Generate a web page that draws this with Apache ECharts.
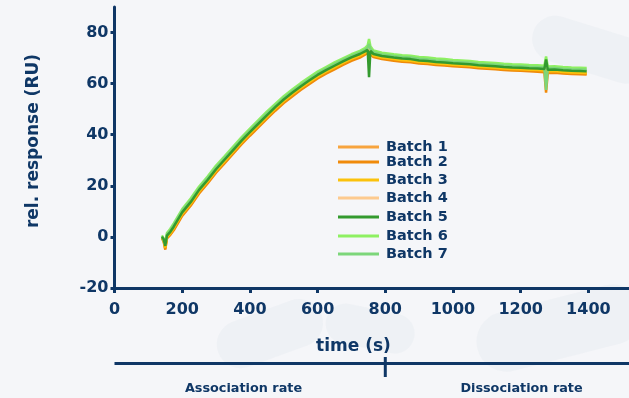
<!DOCTYPE html>
<html>
  <head>
    <meta charset="utf-8" />
    <title>Batch comparison</title>
    <script src="https://cdn.jsdelivr.net/npm/echarts@6/dist/echarts.min.js"></script>
    <style>
      html, body { margin: 0; padding: 0; }
      #main { width: 629px; height: 398px; }
    </style>
  </head>
  <body>
    <div id="main"></div>
    <script type="text/javascript">
      // time axis (s), shared by all batches
      var times = [140, 145, 150, 155, 165, 175,
        200, 225, 250, 275, 300, 325, 350, 375, 400, 425, 450, 475, 500, 525, 550, 575, 600, 625, 650, 675, 700, 725,
        740, 748, 752, 756, 765, 790,
        825, 850, 875, 900, 925, 950, 975, 1000, 1025, 1050, 1075, 1100, 1125, 1150, 1175, 1200, 1225, 1250,
        1270, 1275, 1280, 1300, 1325, 1350, 1375, 1395];

      // rel. response (RU) per batch
      var batch1 = [-0.4, -1.4, -4.6, -0.3, 1.1, 3.0,
        8.6, 12.6, 17.4, 21.3, 25.5, 29.2, 32.9, 36.6, 40.0, 43.3, 46.6, 49.8, 52.8, 55.4, 57.9, 60.2, 62.4, 64.3, 66.0, 67.7, 69.3, 70.6,
        71.6, 72.3, 73.0, 71.9, 70.7, 69.9,
        69.3, 68.9, 68.7, 68.2, 68.0, 67.6, 67.4, 67.1, 66.9, 66.7, 66.3, 66.1, 65.9, 65.6, 65.4, 65.3, 65.1, 65.0,
        64.8, 63.5, 64.5, 64.6, 64.3, 64.1, 64.0, 63.9];
      var batch2 = [-0.6, -1.7, -5.0, -0.6, 0.8, 2.6,
        8.2, 12.2, 17.0, 20.9, 25.1, 28.8, 32.5, 36.2, 39.6, 42.9, 46.2, 49.4, 52.4, 55.0, 57.5, 59.8, 62.0, 63.9, 65.6, 67.3, 68.9, 70.2,
        71.3, 72.0, 72.5, 71.6, 70.4, 69.6,
        69.0, 68.6, 68.4, 67.9, 67.7, 67.3, 67.1, 66.8, 66.6, 66.4, 66.0, 65.8, 65.6, 65.3, 65.1, 65.0, 64.8, 64.7,
        64.5, 56.5, 64.2, 64.3, 64.0, 63.8, 63.7, 63.6];
      var batch3 = [-0.3, -1.2, -4.2, 0.0, 1.4, 3.4,
        9.0, 13.0, 17.8, 21.7, 25.9, 29.6, 33.3, 37.0, 40.4, 43.7, 47.0, 50.2, 53.2, 55.8, 58.3, 60.6, 62.8, 64.7, 66.4, 68.1, 69.7, 71.0,
        72.0, 72.6, 73.5, 72.2, 71.0, 70.2,
        69.6, 69.2, 69.0, 68.5, 68.3, 67.9, 67.7, 67.4, 67.2, 67.0, 66.6, 66.4, 66.2, 65.9, 65.7, 65.6, 65.4, 65.3,
        65.1, 64.5, 64.8, 64.9, 64.6, 64.4, 64.3, 64.2];
      var batch4 = [0.2, -0.6, -3.0, 0.8, 2.3, 4.4,
        10.0, 14.0, 18.7, 22.7, 26.9, 30.6, 34.3, 38.0, 41.4, 44.7, 48.0, 51.1, 54.1, 56.7, 59.2, 61.5, 63.7, 65.6, 67.3, 69.0, 70.6, 71.9,
        72.9, 73.6, 74.2, 73.2, 72.0, 71.1,
        70.5, 70.1, 69.9, 69.4, 69.2, 68.8, 68.6, 68.3, 68.1, 67.9, 67.5, 67.3, 67.1, 66.8, 66.6, 66.5, 66.3, 66.2,
        66.0, 66.4, 65.7, 65.8, 65.5, 65.3, 65.2, 65.1];
      var batch5 = [0.0, -0.8, -3.5, 0.5, 2.0, 4.0,
        9.6, 13.6, 18.4, 22.3, 26.5, 30.2, 33.9, 37.6, 41.0, 44.3, 47.6, 50.8, 53.8, 56.4, 58.9, 61.2, 63.4, 65.3, 67.0, 68.7, 70.3, 71.6,
        72.6, 73.2, 62.5, 72.8, 71.6, 70.8,
        70.2, 69.8, 69.6, 69.1, 68.9, 68.5, 68.3, 68.0, 67.8, 67.6, 67.2, 67.0, 66.8, 66.5, 66.3, 66.2, 66.0, 65.9,
        65.7, 69.5, 65.4, 65.5, 65.2, 65.0, 64.9, 64.8];
      var batch6 = [0.6, 0.2, -2.0, 1.5, 3.2, 5.3,
        10.9, 15.0, 19.7, 23.6, 27.9, 31.5, 35.3, 39.0, 42.4, 45.7, 49.0, 52.1, 55.1, 57.7, 60.2, 62.5, 64.7, 66.5, 68.3, 69.9, 71.5, 72.8,
        73.9, 75.0, 77.5, 74.6, 73.0, 72.1,
        71.5, 71.1, 70.9, 70.4, 70.2, 69.8, 69.6, 69.3, 69.1, 68.9, 68.5, 68.3, 68.1, 67.8, 67.6, 67.5, 67.3, 67.2,
        67.0, 70.6, 66.7, 66.8, 66.5, 66.3, 66.2, 66.1];
      var batch7 = [0.3, -0.4, -2.8, 1.0, 2.6, 4.7,
        10.3, 14.3, 19.0, 23.0, 27.2, 30.9, 34.6, 38.3, 41.7, 45.0, 48.3, 51.4, 54.4, 57.0, 59.5, 61.8, 64.0, 65.9, 67.6, 69.3, 70.9, 72.2,
        73.2, 74.0, 75.5, 73.6, 72.3, 71.4,
        70.8, 70.4, 70.2, 69.7, 69.5, 69.1, 68.9, 68.6, 68.4, 68.2, 67.8, 67.6, 67.4, 67.1, 66.9, 66.8, 66.6, 66.5,
        66.3, 57.5, 66.0, 66.1, 65.8, 65.6, 65.5, 65.4];

      var batchNames = ['Batch 1', 'Batch 2', 'Batch 3', 'Batch 4', 'Batch 5', 'Batch 6', 'Batch 7'];
      var batchValues = [batch1, batch2, batch3, batch4, batch5, batch6, batch7];
      var batchColors = ['#f7a43e', '#f08a0a', '#fbc20c', '#fdca8e', '#339a2e', '#8ef062', '#7cd67a'];

      var xTicks = [0, 200, 400, 600, 800, 1000, 1200, 1400];
      var yTicks = [-20, 0, 20, 40, 60, 80];
      var phaseLabels = ['Association rate', 'Dissociation rate'];
      var phaseSplit = 800;

      var navy = '#0f3766';
      var font = 'DejaVu Sans';
      // legend rows (centre y of each row)
      var legendRows = [147, 162, 180, 198, 217, 236, 254];

      var chartDom = document.getElementById('main');
      var myChart = echarts.init(chartDom);

      var labelStyle = {
        color: navy, fontFamily: font, fontWeight: 'bold', fontSize: 16,
        formatter: function (v) { return String(v); }
      };

      var option = {
        animation: false,
        backgroundColor: '#f5f6f9',
        grid: { left: 114.5, right: 0, top: 7, bottom: 110 },
        legend: batchNames.map(function (name, i) {
          return {
            data: [name],
            left: 338,
            top: legendRows[i] - 8,
            padding: 0,
            icon: 'rect',
            itemWidth: 41,
            itemHeight: 3,
            selectedMode: false,
            textStyle: { color: navy, fontFamily: font, fontWeight: 'bold', fontSize: 14.5, lineHeight: 16, padding: [0, 0, 0, 2] }
          };
        }),
        xAxis: {
          type: 'value',
          min: 0,
          max: 1520,
          axisLine: { onZero: false, lineStyle: { color: navy, width: 3 } },
          axisTick: { customValues: xTicks, length: 5, lineStyle: { color: navy, width: 3 } },
          axisLabel: Object.assign({ customValues: xTicks, margin: 14 }, labelStyle),
          splitLine: { show: false }
        },
        yAxis: {
          type: 'value',
          min: -20,
          max: 90,
          axisLine: { show: true, onZero: false, lineStyle: { color: navy, width: 3 } },
          axisTick: { show: true, customValues: yTicks, length: 4, lineStyle: { color: navy, width: 3 } },
          axisLabel: Object.assign({ customValues: yTicks, margin: 6 }, labelStyle),
          splitLine: { show: false }
        },
        series: batchNames.map(function (name, i) {
          return {
            name: name,
            type: 'line',
            symbol: 'none',
            z: name === 'Batch 5' ? 4 : 2,
            itemStyle: { color: batchColors[i] },
            lineStyle: { color: batchColors[i], width: 2.5 },
            data: times.map(function (t, k) { return [t, batchValues[i][k]]; })
          };
        })
      };

      option && myChart.setOption(option);

      // annotations below the axis
      var splitX = myChart.convertToPixel({ xAxisIndex: 0 }, phaseSplit);
      var left = myChart.convertToPixel({ xAxisIndex: 0 }, 0);
      var pill = { fill: '#e3e7ef', opacity: 0.35 };
      myChart.setOption({
        graphic: [
          { type: 'rect', silent: true, z: -10, x: 210, y: 330, rotation: 0.35, shape: { width: 110, height: 48, r: 24 }, style: pill },
          { type: 'rect', silent: true, z: -10, x: 330, y: 300, rotation: -0.2, shape: { width: 90, height: 40, r: 20 }, style: pill },
          { type: 'rect', silent: true, z: -10, x: 470, y: 320, rotation: 0.25, shape: { width: 170, height: 60, r: 30 }, style: pill },
          { type: 'rect', silent: true, z: -10, x: 540, y: 10, rotation: -0.3, shape: { width: 120, height: 46, r: 23 }, style: pill },
          {
            type: 'text', x: 34, y: 141, rotation: Math.PI / 2,
            style: { text: 'rel. response (RU)', fill: navy, font: 'bold 17px ' + font, align: 'center', verticalAlign: 'middle' }
          },
          {
            type: 'text', x: 353.5, y: 347,
            style: { text: 'time (s)', fill: navy, font: 'bold 17px ' + font, align: 'center', verticalAlign: 'middle' }
          },
          { type: 'line', shape: { x1: left, y1: 363.5, x2: 629, y2: 363.5 }, style: { stroke: navy, lineWidth: 3 } },
          { type: 'line', shape: { x1: splitX, y1: 357, x2: splitX, y2: 377 }, style: { stroke: navy, lineWidth: 3 } },
          {
            type: 'text', x: 243.5, y: 388.5,
            style: { text: phaseLabels[0], fill: navy, font: 'bold 12.8px ' + font, align: 'center', verticalAlign: 'middle' }
          },
          {
            type: 'text', x: 521.5, y: 388.5,
            style: { text: phaseLabels[1], fill: navy, font: 'bold 12.8px ' + font, align: 'center', verticalAlign: 'middle' }
          }
        ]
      });
    </script>
  </body>
</html>
